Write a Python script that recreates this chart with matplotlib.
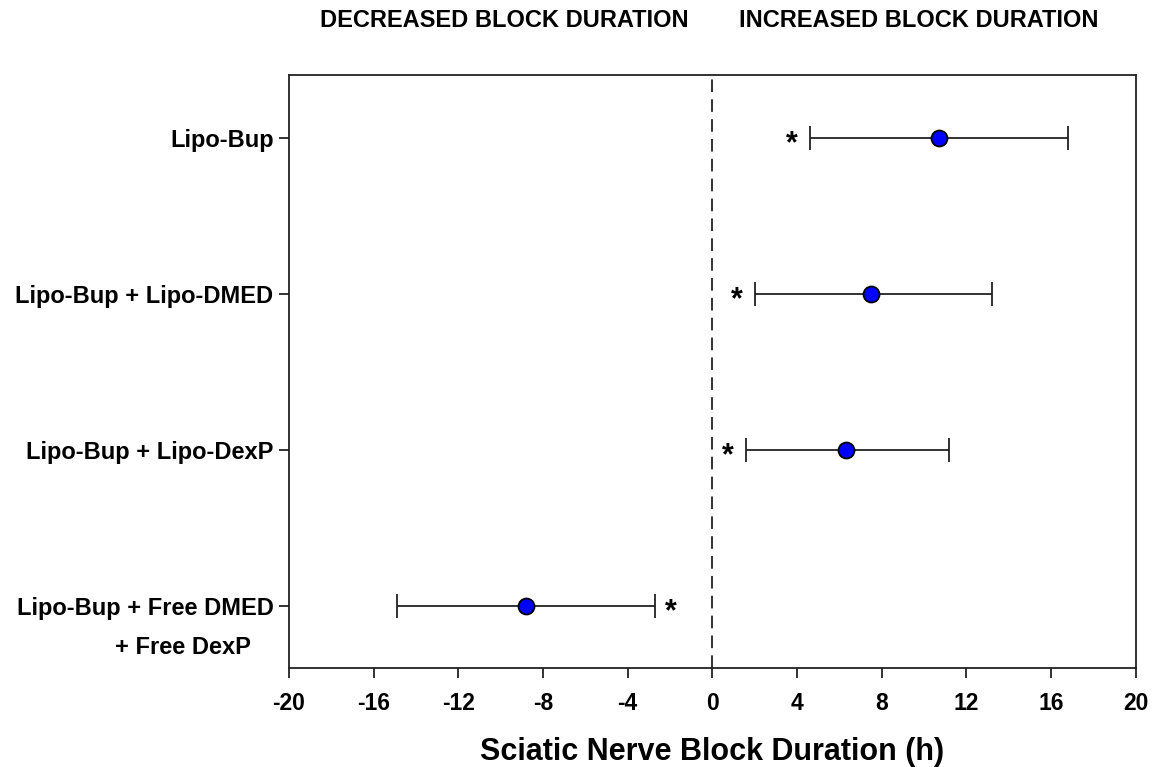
import matplotlib
matplotlib.use('Agg')
import matplotlib.pyplot as plt
import matplotlib.transforms as mtransforms

plt.rcParams['font.family'] = ['Liberation Sans', 'DejaVu Sans']
plt.rcParams['font.weight'] = 'bold'

groups = ['Lipo-Bup', 'Lipo-Bup + Lipo-DMED', 'Lipo-Bup + Lipo-DexP', 'Lipo-Bup + Free DMED']
group_extra = '+ Free DexP'
means = [10.7, 7.5, 6.3, -8.8]
lower = [4.6, 2.0, 1.6, -14.9]
upper = [16.8, 13.2, 11.2, -2.7]
xticks = [-20, -16, -12, -8, -4, 0, 4, 8, 12, 16, 20]

fig = plt.figure(figsize=(11.6, 7.67), dpi=100)
ax = fig.add_axes([0.249, 0.129, 0.730, 0.773])

ypos = list(range(len(groups)))
err_lo = [m - lo for m, lo in zip(means, lower)]
err_hi = [hi - m for m, hi in zip(means, upper)]
ax.errorbar(means, ypos, xerr=[err_lo, err_hi], fmt='o', color='black',
            ecolor='#222222', elinewidth=1.3, capsize=8.5, capthick=1.3,
            markerfacecolor='#0000ff', markeredgecolor='black',
            markersize=11.5, markeredgewidth=1.3, zorder=3)

# significance markers next to the bar end nearest zero
for y, lo, hi in zip(ypos, lower, upper):
    if lo > 0:
        ax.annotate('*', xy=(lo, y), xytext=(-13, -5), textcoords='offset points',
                    ha='center', va='center', fontsize=22, fontweight='bold')
    else:
        ax.annotate('*', xy=(hi, y), xytext=(11, -5), textcoords='offset points',
                    ha='center', va='center', fontsize=22, fontweight='bold')

ax.axvline(0, color='#222222', linestyle=(0, (7, 4)), linewidth=1.3, zorder=1)

ax.set_xlim(-20, 20)
ax.set_ylim(3.4, -0.4)
ax.set_xticks(xticks)
ax.set_xticklabels([str(t) for t in xticks], fontsize=16.5, fontweight='bold')
ax.set_yticks(ypos)
ax.set_yticklabels(groups, fontsize=17, fontweight='bold')
ax.tick_params(axis='both', direction='out', length=7, width=1.3, color='#222222')
ax.tick_params(axis='y', pad=4)
ax.tick_params(axis='x', pad=10)
for s in ax.spines.values():
    s.set_linewidth(1.3)
    s.set_color('#222222')

trans = mtransforms.blended_transform_factory(ax.transAxes, ax.transData)
ax.annotate(group_extra, xy=(0, 3), xycoords=trans, xytext=(-27, -30),
            textcoords='offset points', ha='right', va='center',
            fontsize=17, fontweight='bold', annotation_clip=False)

ax.set_xlabel('Sciatic Nerve Block Duration (h)', fontsize=22, fontweight='bold',
              labelpad=16)

fig.text(0.435, 0.973, 'DECREASED BLOCK DURATION', ha='center', va='center',
         fontsize=17, fontweight='bold')
fig.text(0.792, 0.973, 'INCREASED BLOCK DURATION', ha='center', va='center',
         fontsize=17, fontweight='bold')

fig.savefig('out.png', dpi=100)
